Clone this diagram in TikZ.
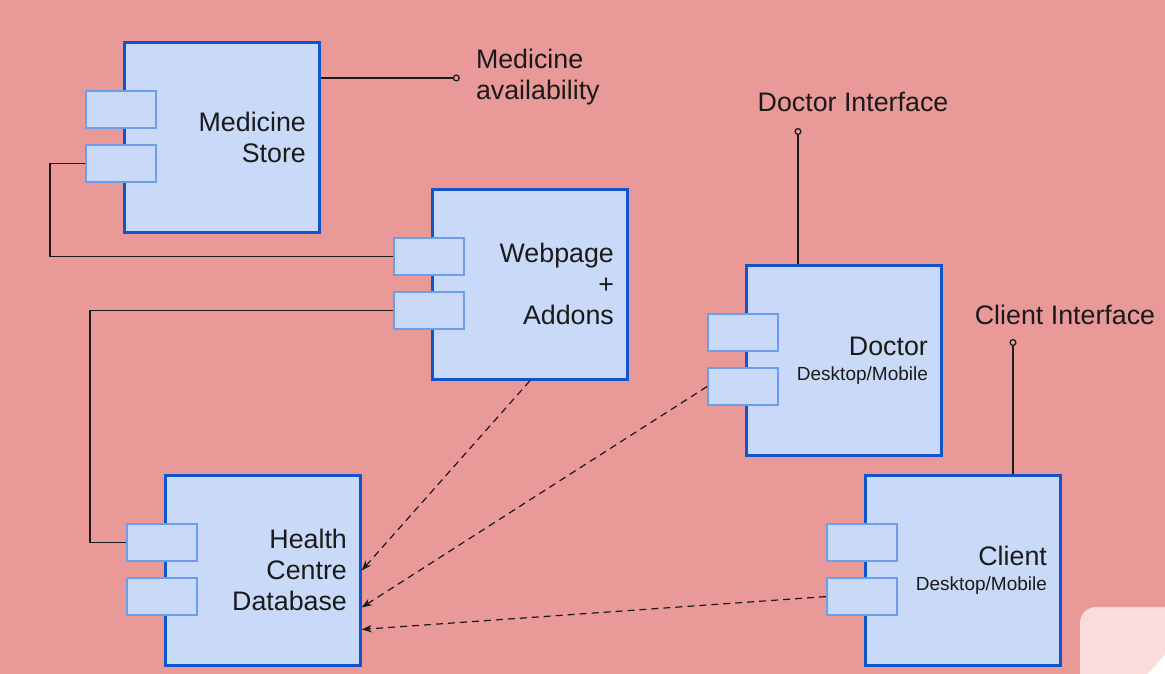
\documentclass[tikz,border=0pt]{standalone}
\usepackage{fontspec}
\setmainfont{Liberation Sans}
\usetikzlibrary{arrows.meta, positioning, calc}
\definecolor{cdBack}{HTML}{EA9999}
\definecolor{cdFill}{HTML}{C9DAF8}
\definecolor{cdEdge}{HTML}{1155CC}
\definecolor{cdPort}{HTML}{6D9EEB}
\definecolor{cdCorner}{HTML}{FADCDC}
\definecolor{cdInk}{HTML}{1A1A1A}
\newlength{\cdBoxW}
\setlength{\cdBoxW}{195pt}
\newlength{\cdBoxH}
\setlength{\cdBoxH}{190pt}
\newlength{\cdPad}
\setlength{\cdPad}{13.5pt}
\newlength{\cdTextW}
\setlength{\cdTextW}{\dimexpr\cdBoxW-2\cdPad\relax}
\newcommand{\cdbig}{\fontsize{26.8}{31}\selectfont}
\newcommand{\cdsmall}{\fontsize{19}{22}\selectfont}
\tikzset{
  cdbox/.style={
    draw=cdEdge, fill=cdFill, line width=2.8pt, minimum width=\cdBoxW,
    minimum height=\cdBoxH, text width=\cdTextW, inner xsep=\cdPad,
    inner ysep=0pt, align=right, anchor=north west, font=\cdbig,
    text=cdInk,
  },
  cdport/.style={
    draw=cdPort, fill=cdFill, line width=2.2pt, minimum width=70pt,
    minimum height=37pt, inner sep=0pt, anchor=north west,
  },
  cdlabel/.style={
    inner sep=0pt, align=left, font=\cdbig, text=cdInk,
  },
  cdwire/.style={
    draw=cdInk, line width=1.2pt,
  },
  cdiface/.style={
    draw=cdInk, line width=1.3pt,
    -{Circle[open, length=7pt, width=7pt, line width=1.2pt]},
  },
  cddash/.style={
    draw=cdInk, line width=1.2pt, dash pattern=on 7pt off 5pt,
    -{Stealth[length=10pt, width=7.5pt]},
  },
}
\newcommand{\cdcomp}[3]{%
  \node[cdbox, #2] (#1) {#3};%
  \node[cdport] (#1-p1) at ($(#1.north west)+(-38,49)$) {};%
  \node[cdport] (#1-p2) at ($(#1.north west)+(-38,103)$) {};%
}

\begin{document}
\begin{tikzpicture}[x=1pt, y=-1pt]

% Slide ------------------------------------------------------------------
\fill[cdBack] (0,0) rectangle (1165,674);
\useasboundingbox (0,0) rectangle (1165,674);
\begin{scope}
  \clip (0,0) rectangle (1165,674);
  \fill[cdCorner, rounded corners=16pt] (1080,607) rectangle (1200,710);
  \fill[white] (1148,674) -- (1165,655) -- (1165,674) -- cycle;
\end{scope}

% Components -------------------------------------------------------------
\cdcomp{ms}{at={(123,41)}}{Medicine\\Store}
\cdcomp{wp}{at={(431,188)}}{Webpage\\+\\Addons}
\cdcomp{hc}{at={(164,474)}}{Health\\Centre\\Database}
\cdcomp{dr}{at={(745,264)}}{Doctor\\[-6pt]{\cdsmall Desktop/Mobile}}
\cdcomp{cl}{at={(864,474)}}{Client\\[-6pt]{\cdsmall Desktop/Mobile}}

% Interfaces -------------------------------------------------------------
\coordinate (ms-if) at ($(ms.north east)+(139,37)$);
\draw[cdiface] ($(ms.north east)+(0,37)$) -- (ms-if);
\node[cdlabel, anchor=west] (ms-label) at ($(ms-if)+(16,-1)$) {Medicine\\availability};

\coordinate (dr-if) at ($(dr.north west)+(53,-136)$);
\draw[cdiface] (dr-if |- dr.north) -- (dr-if);
\node[cdlabel, anchor=base] (dr-label) at ($(dr-if)+(55,-16)$) {Doctor Interface};

\coordinate (cl-if) at ($(cl.north west)+(149,-135)$);
\draw[cdiface] (cl-if |- cl.north) -- (cl-if);
\node[cdlabel, anchor=base] (cl-label) at ($(cl-if)+(52,-15)$) {Client Interface};

% Wiring -----------------------------------------------------------------
\draw[cdwire] (ms-p2.west) -- ++(-35,0) |- (wp-p1.west);
\draw[cdwire] (wp-p2.west) -| ($(hc-p1.west)+(-36,0)$) -- (hc-p1.west);

\draw[cddash] (wp.south) -- (hc.east);
\draw[cddash] (dr-p2.west) -- ($(hc.east)+(0,37)$);
\draw[cddash] (cl-p2.west) -- ($(hc.east)+(0,59)$);

\end{tikzpicture}
\end{document}
